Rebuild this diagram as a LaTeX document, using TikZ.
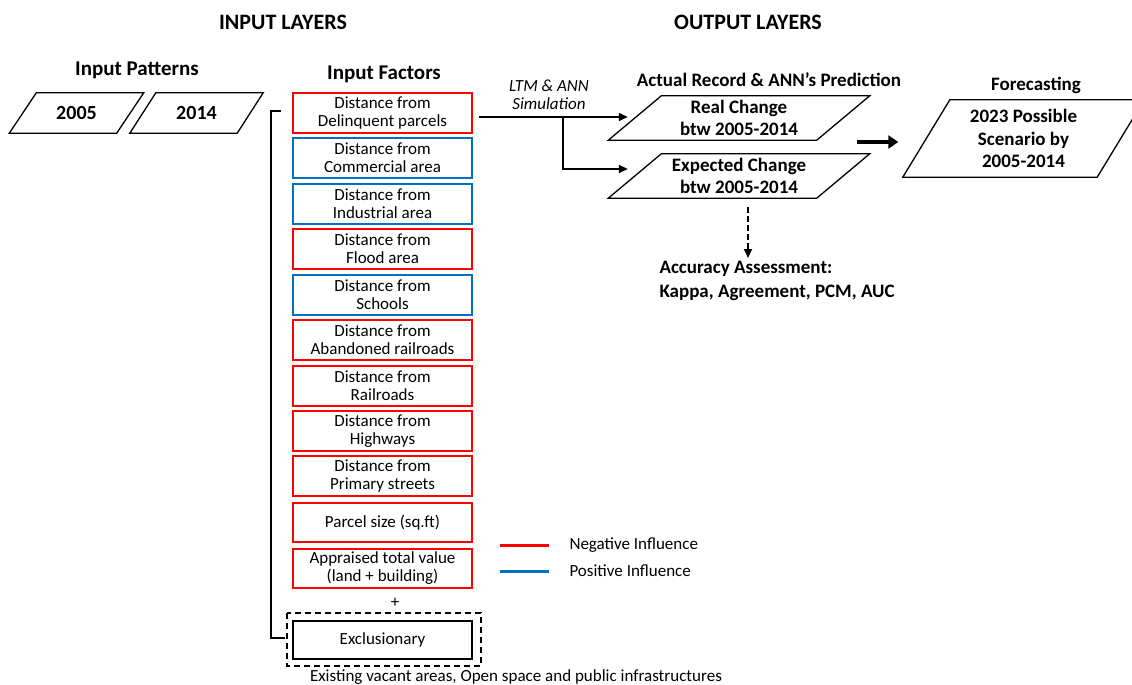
\documentclass[tikz,border=0pt]{standalone}
\usepackage{fontspec}
\setmainfont{Carlito}
\usetikzlibrary{arrows.meta}

\definecolor{negred}{RGB}{255,0,0}
\definecolor{posblue}{RGB}{0,112,192}

\def\fsbody{\fontsize{17}{18}\selectfont}
\def\fsbold{\fontsize{19}{22.5}\selectfont\bfseries}
\def\fshead{\fontsize{21}{24}\selectfont\bfseries}
\def\fstitle{\fontsize{22}{26}\selectfont\bfseries}

% parallelogram round a named node: (node:half slant)
\def\slantframe(#1:#2){\draw[frame] ([xshift=-#2pt]#1.south west) -- ([xshift=#2pt]#1.north west) -- ([xshift=#2pt]#1.north east) -- ([xshift=-#2pt]#1.south east) -- cycle;}

\tikzset{
  frame/.style={line width=1.3pt, line join=miter},
  factorbox/.style={draw, line width=1.8pt, minimum width=179pt, minimum height=40pt, inner sep=0pt, align=center, font=\fsbody},
  negbox/.style={factorbox, draw=negred},
  posbox/.style={factorbox, draw=posblue},
  databox/.style={inner sep=0pt, align=center, font=\fsbold},
  yearbox/.style={databox, minimum width=107pt, minimum height=40pt, font=\fontsize{20}{22}\selectfont\bfseries},
  flow/.style={line width=1.5pt, -{Triangle[length=9pt,width=8pt]}},
  bigflow/.style={line width=4pt, -{Triangle[length=10pt,width=13pt]}},
}

\begin{document}
\begin{tikzpicture}[x=1pt, y=-1pt]
		\useasboundingbox (0,0) rectangle (1132,685);
		
		%%%%% headings %%%%%
		\node[font=\fstitle] (inlay) at (283, 22) {INPUT LAYERS};
		\node[font=\fstitle] (outlay) at (748, 22) {OUTPUT LAYERS};
		\node[font=\fshead] (patt) at (137, 70) {Input Patterns};
		\node[font=\fshead] (fact) at (384, 74) {Input Factors};
		\node[font=\fsbold] (actual) at (769, 80) {Actual Record \& ANN’s Prediction};
		\node[font=\fsbold] (fore) at (1036, 85) {Forecasting};
		
		%%%%% input patterns %%%%%
		\node[yearbox] (y05) at (76.5, 113) {2005};
		\slantframe(y05:13.5)
		\node[yearbox] (y14) at (196.5, 113) {2014};
		\slantframe(y14:13)
		
		%%%%% bracket %%%%%
		\draw[line width=1.8pt] (281, 111) -- (271, 111) -- (271, 638) -- (285, 638);
		
		%%%%% input factors %%%%%
		\node[negbox] (f1) at (382.5, 113) {Distance from\\Delinquent parcels};
		\node[posbox] (f2) at (382.5, 158) {Distance from\\Commercial area};
		\node[posbox] (f3) at (382.5, 204) {Distance from\\Industrial area};
		\node[negbox] (f4) at (382.5, 249) {Distance from\\Flood area};
		\node[posbox] (f5) at (382.5, 295) {Distance from\\Schools};
		\node[negbox] (f6) at (382.5, 340) {Distance from\\Abandoned railroads};
		\node[negbox] (f7) at (382.5, 386) {Distance from\\Railroads};
		\node[negbox] (f8) at (382.5, 431) {Distance from\\Highways};
		\node[negbox] (f9) at (382.5, 476) {Distance from\\Primary streets};
		\node[negbox, minimum height=39pt] (f10) at (382.5, 522.5) {Parcel size (sq.ft)};
		\node[negbox, minimum height=39pt] (f11) at (382.5, 568.5) {Appraised total value\\(land + building)};
		
		\node[font=\fsbody] (plus) at (395, 603) {+};
		\draw[line width=1.3pt, dash pattern=on 6pt off 4pt] (287, 613) rectangle (481, 666);
		\node[factorbox, draw=black, line width=1.5pt, minimum height=38pt] (excl) at (382.5, 640) {Exclusionary};
		\node[font=\fsbody] (exnote) at (516, 677) {Existing vacant areas, Open space and public infrastructures};
		
		%%%%% legend %%%%%
		\draw[negred, line width=3pt] (500, 545) -- (549, 545);
		\node[font=\fsbody, anchor=west] (negtxt) at (566, 545) {Negative Influence};
		\draw[posblue, line width=3pt] (500, 571) -- (549, 571);
		\node[font=\fsbody, anchor=west] (postxt) at (566, 571) {Positive Influence};
		
		%%%%% outputs %%%%%
		\node[databox, minimum width=208pt, minimum height=44pt] (real) at (739, 118) {Real Change\\btw 2005-2014};
		\slantframe(real:26.5)
		\node[databox, minimum width=208pt, minimum height=44pt] (expect) at (739, 176) {Expected Change\\btw 2005-2014};
		\slantframe(expect:26.5)
		\node[databox, minimum width=194pt, minimum height=77pt] (scen) at (1023.5, 138.5) {2023 Possible\\Scenario by\\2005-2014};
		\slantframe(scen:23.5)
		
		\node[font=\fsbody\itshape, align=center] (ltm) at (549, 95) {LTM \& ANN\\Simulation};
		
		%%%%% connectors %%%%%
		\coordinate (split) at (563, 117);
		\draw[flow] ([xshift=6pt]f1.east |- split) -- ([xshift=-7pt]real.west |- split);
		\draw[flow] (split) |- ([xshift=-7pt, yshift=7pt]expect.west);
		
		\coordinate (join) at (857, 142);
		\draw[bigflow] (join) -- ([xshift=-28pt]scen.west |- join);
		
		\node[font=\fontsize{19}{24}\selectfont\bfseries, align=left, anchor=north west] (acc) at (656, 258) {Accuracy Assessment:\\Kappa, Agreement, PCM, AUC};
		\draw[flow, line width=2pt, dash pattern=on 6pt off 3pt] ([xshift=9pt, yshift=-9pt]expect.south) -- ([xshift=9pt]expect.south |- acc.north);
		
	\end{tikzpicture}
\end{document}
